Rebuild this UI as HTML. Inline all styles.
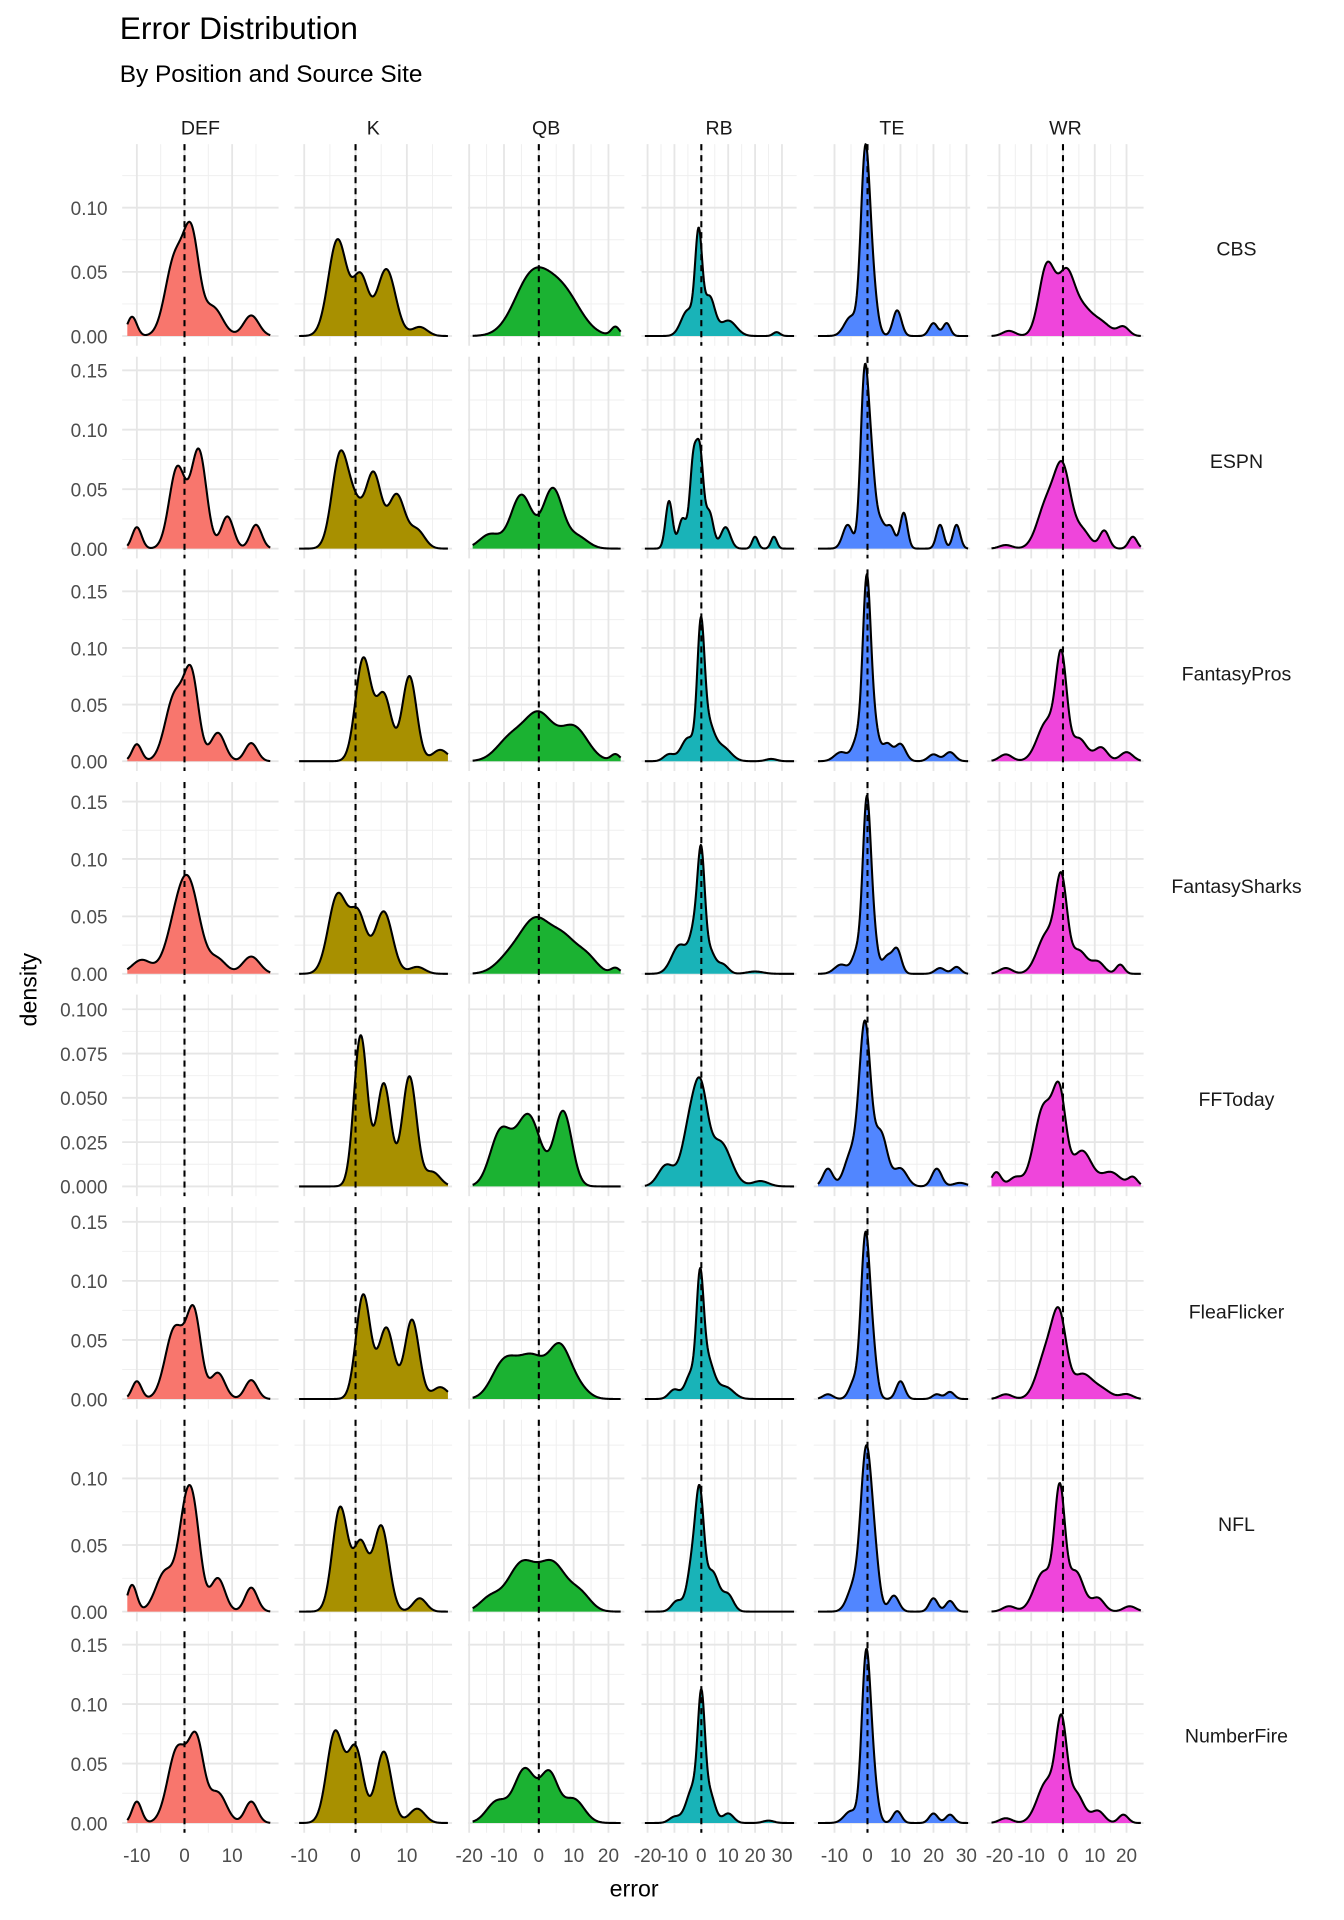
<!DOCTYPE html>
<html><head><meta charset="utf-8"><style>
html,body{margin:0;padding:0;background:#fff;}
svg{display:block;}
text{font-family:"Liberation Sans",sans-serif;}
</style></head><body>
<svg id="s" width="1344" height="1920" viewBox="0 0 1100 1571.4" preserveAspectRatio="none" xmlns="http://www.w3.org/2000/svg">
<text x="98" y="32" font-size="26" fill="#000">Error Distribution</text>
<text x="98" y="67" font-size="20" fill="#000">By Position and Source Site</text>
<text x="519" y="1552" font-size="19" text-anchor="middle" fill="#000">error</text>
<text transform="translate(30,810) rotate(-90)" font-size="19" text-anchor="middle" fill="#000">density</text>
</svg>
<script>
(function(){
var s=document.getElementById('s'),NS='http://www.w3.org/2000/svg';
function el(t,a,txt){var e=document.createElementNS(NS,t);for(var k in a)e.setAttribute(k,a[k]);if(txt!==undefined)e.textContent=txt;s.appendChild(e);return e;}
var cols=[
 {n:'DEF',x0:100,x1:228,z:151,u:3.9,r:[-12,18],maj:[-10,0,10],min:[-5,5,15],c:'#F8766D',lab:['-10','0','10']},
 {n:'K',x0:241,x1:370,z:291,u:4.2,r:[-11,18],maj:[-10,0,10],min:[-5,5,15],c:'#A89000',lab:['-10','0','10']},
 {n:'QB',x0:383,x1:511,z:441,u:2.85,r:[-19,23.5],maj:[-20,-10,0,10,20],min:[-15,-5,5,15],c:'#1BB232',lab:['-20','-10','0','10','20']},
 {n:'RB',x0:525,x1:652,z:574,u:2.2,r:[-21,34.5],maj:[-20,-10,0,10,20,30],min:[-15,-5,5,15,25],c:'#19B3B8',lab:['-20','-10','0','10','20','30']},
 {n:'TE',x0:666,x1:794,z:710,u:2.7,r:[-15,30.5],maj:[-10,0,10,20,30],min:[-5,5,15,25],c:'#5186FF',lab:['-10','0','10','20','30']},
 {n:'WR',x0:808,x1:936,z:870,u:2.6,r:[-22.5,24.5],maj:[-20,-10,0,10,20],min:[-15,-5,5,15],c:'#EF45DB',lab:['-20','-10','0','10','20']}
];
var rows=[
 {n:'CBS',b:275,sc:1050,t:['0.00','0.05','0.10'],tv:[0,.05,.1],mv:[.025,.075,.125]},
 {n:'ESPN',b:449,sc:973,t:['0.00','0.05','0.10','0.15'],tv:[0,.05,.1,.15],mv:[.025,.075,.125]},
 {n:'FantasyPros',b:623,sc:927,t:['0.00','0.05','0.10','0.15'],tv:[0,.05,.1,.15],mv:[.025,.075,.125]},
 {n:'FantasySharks',b:797,sc:940,t:['0.00','0.05','0.10','0.15'],tv:[0,.05,.1,.15],mv:[.025,.075,.125]},
 {n:'FFToday',b:971,sc:1450,t:['0.000','0.025','0.050','0.075','0.100'],tv:[0,.025,.05,.075,.1],mv:[.0125,.0375,.0625,.0875]},
 {n:'FleaFlicker',b:1145,sc:967,t:['0.00','0.05','0.10','0.15'],tv:[0,.05,.1,.15],mv:[.025,.075,.125]},
 {n:'NFL',b:1319,sc:1090,t:['0.00','0.05','0.10'],tv:[0,.05,.1],mv:[.025,.075,.125]},
 {n:'NumberFire',b:1492,sc:973,t:['0.00','0.05','0.10','0.15'],tv:[0,.05,.1,.15],mv:[.025,.075,.125]}
];
var D={
DEF:[
[[-11,1,.015],[-2,2,.06],[1.5,1.6,.072],[6,2,.022],[14,1.6,.016]],
[[-10,1,.018],[-1.5,1.7,.068],[3,1.6,.082],[9,1.3,.027],[15,1.2,.02]],
[[-10,1,.015],[-2,2,.058],[1.5,1.5,.07],[7,1.5,.025],[14,1.3,.016]],
[[-9,2,.012],[-2,2.2,.03],[1,2.3,.072],[7,1.8,.012],[14,1.8,.015]],
null,
[[-10,1,.015],[-2,2,.06],[2,1.5,.07],[7,1.5,.022],[14,1.3,.016]],
[[-11,1,.02],[-4,2,.03],[0,1.5,.055],[2,1.5,.062],[7,1.5,.025],[14,1.3,.018]],
[[-10,1,.018],[-1.5,2,.062],[2.5,1.6,.066],[7,1.8,.025],[14,1.3,.018]]],
K:[
[[-3.5,1.8,.075],[1,1.5,.045],[6,1.8,.052],[12.5,1.5,.007]],
[[-3,1.6,.078],[0,1.5,.03],[3.5,1.5,.062],[8,1.6,.045],[12,1.5,.015]],
[[1.5,1.5,.09],[5.5,1.5,.058],[10.5,1.4,.075],[16.5,1.5,.01]],
[[-3.5,1.8,.068],[0.5,1.6,.05],[5.5,1.7,.054],[12,1.5,.006]],
[[1,1.3,.085],[5.5,1.4,.058],[10.5,1.4,.062],[15,1.5,.008]],
[[1.5,1.4,.088],[6,1.5,.06],[11,1.4,.067],[16.5,1.5,.01]],
[[-3,1.5,.078],[1,1.4,.05],[5,1.5,.064],[12.5,1.3,.01]],
[[-4,1.6,.076],[0,1.5,.062],[5.5,1.5,.06],[12,1.5,.012]]],
QB:[
[[-2,5,.045],[7,5,.032],[22,1.2,.007]],
[[-14,3,.012],[-5,3,.045],[4,2.8,.05],[11,3,.01]],
[[-8,4,.02],[0,4,.04],[10,4,.03],[22,1.3,.006]],
[[-8,4,.015],[-1,4,.042],[7,4,.03],[14,3,.012],[22,1.3,.005]],
[[-11,3,.03],[-3,3.5,.04],[7,2.5,.042]],
[[-10,3.5,.03],[-2,4,.035],[6,3,.04],[11,3,.01]],
[[-14,3,.01],[-5,4,.035],[4,4,.035],[12,3,.012]],
[[-12,3,.018],[-4,3,.045],[3,2.5,.04],[10,3,.02]]],
RB:[
[[-5,2.5,.02],[-1,1.3,.075],[3,2,.03],[10,3,.012],[28,1.3,.003]],
[[-12,1.3,.04],[-7,1.5,.025],[-3,1,.07],[-0.5,1,.075],[3,1.5,.03],[9,1.8,.018],[20,.8,.01],[27,.8,.01]],
[[-12,2,.006],[-5,2.5,.02],[-0.2,1,.1],[2,2.5,.035],[8,3,.012],[26,2,.002]],
[[-8,3,.025],[-2,2,.04],[0,1,.08],[3,2,.02],[8,2,.008],[20,3,.002]],
[[-13,3,.012],[-4,3,.035],[0,2.5,.04],[7,4,.025],[22,3,.003]],
[[-10,2,.008],[-4,2,.02],[-0.5,1,.085],[2,2.5,.035],[9,3,.01]],
[[-9,2,.008],[-3,2,.04],[-0.5,1.5,.07],[4,2.5,.03],[10,2,.012]],
[[-10,2,.005],[-3,2.5,.03],[0,1,.09],[3,2,.025],[10,2,.008],[25,2,.002]]],
TE:[
[[-5,2,.015],[-0.8,1,.12],[1,1.2,.05],[9,1,.02],[20,1,.01],[24,.8,.01]],
[[-6,1.5,.02],[-1,.9,.13],[1,1,.07],[4,1,.02],[7,1,.018],[11,.7,.03],[22,.6,.02],[27,.6,.02]],
[[-8,2,.008],[-3,1.5,.02],[-0.3,.9,.14],[1.5,1.2,.04],[6,1.5,.015],[10,1.2,.015],[20,1.2,.006],[25,1.2,.008]],
[[-8,2,.008],[-3,1.5,.02],[-0.3,.9,.135],[1.5,1.3,.04],[6,1.2,.015],[9,1,.02],[22,1.5,.005],[27,1,.006]],
[[-12,1.5,.01],[-5,2,.018],[-0.8,1.7,.09],[4,2,.03],[10,2,.01],[21,1.5,.01],[28,2,.002]],
[[-12,1.5,.004],[-4,1.5,.015],[-0.7,1,.13],[1.5,1.3,.04],[10,1,.015],[21,1,.004],[25,1,.006]],
[[-4,2,.02],[-0.5,1.2,.11],[2,1.5,.04],[8,1.5,.012],[20,1,.01],[25,1,.008]],
[[-5,2,.01],[-0.5,1,.13],[1.5,1.4,.04],[9,1.3,.01],[20,1,.008],[25,1,.007]]],
WR:[
[[-17,2,.004],[-5,2.5,.055],[1,2.5,.045],[6,3,.02],[12,3,.01],[19,1.8,.007]],
[[-18,2,.003],[-5,3,.038],[0,2.5,.062],[6,2.5,.015],[13,1.5,.015],[22,1.3,.01]],
[[-18,2,.006],[-5,3,.035],[-0.5,1.7,.085],[5,2.5,.02],[12,2,.012],[20,2,.008]],
[[-18,2,.005],[-5,3,.035],[-0.5,1.8,.075],[5,2.5,.02],[11,2,.01],[18,1.3,.008]],
[[-21,1.5,.008],[-15,2,.005],[-6,3,.045],[-1,2,.045],[6,3,.02],[15,3,.008],[22,1.5,.005]],
[[-18,2,.004],[-5,3,.04],[-1,2.2,.058],[6,3,.02],[12,3,.008],[20,2,.004]],
[[-17,2,.004],[-6,3,.03],[-1,1.6,.085],[4,2.5,.03],[11,2,.01],[21,2,.004]],
[[-18,2,.004],[-5,3,.035],[-0.5,1.7,.075],[4,2.5,.025],[11,2,.01],[19,1.5,.007]]]
};
cols.forEach(function(c){el('text',{x:(c.x0+c.x1)/2,y:110,'font-size':16,'text-anchor':'middle',fill:'#1a1a1a'},c.n);});
rows.forEach(function(r,ri){
 var top=r.b-157,bot=r.b+8;
 el('text',{x:1012,y:r.b-66,'font-size':16,'text-anchor':'middle',fill:'#1a1a1a'},r.n);
 r.t.forEach(function(t,i){var y=r.b-r.tv[i]*r.sc;el('text',{x:88,y:y+6,'font-size':15.5,'text-anchor':'end',fill:'#4d4d4d'},t);});
 cols.forEach(function(c){
  var X=function(v){return c.z+v*c.u;};
  r.mv.forEach(function(v){var y=r.b-v*r.sc;if(y>top)el('line',{x1:c.x0,x2:c.x1,y1:y,y2:y,stroke:'#efefef','stroke-width':0.8});});
  c.min.forEach(function(v){el('line',{x1:X(v),x2:X(v),y1:top,y2:bot,stroke:'#efefef','stroke-width':0.8});});
  r.tv.forEach(function(v){var y=r.b-v*r.sc;el('line',{x1:c.x0,x2:c.x1,y1:y,y2:y,stroke:'#e6e6e6','stroke-width':1.5});});
  c.maj.forEach(function(v){el('line',{x1:X(v),x2:X(v),y1:top,y2:bot,stroke:'#e6e6e6','stroke-width':1.5});});
  var comp=D[c.n][ri];
  if(comp){
   var narrow=(c.n=='RB'||c.n=='TE');
   var pts=[],N=240;
   for(var i=0;i<=N;i++){var x=c.r[0]+(c.r[1]-c.r[0])*i/N,d=0;
    comp.forEach(function(g){var sd=g[1];if(narrow&&sd<1.3)sd=Math.max(sd*1.3,1.1);var q=(x-g[0])/sd;d+=g[2]*Math.exp(-0.5*q*q);});
    pts.push(X(x).toFixed(2)+','+(r.b-d*r.sc).toFixed(2));}
   el('path',{d:'M'+X(c.r[0])+','+r.b+' L'+pts.join(' L')+' L'+X(c.r[1])+','+r.b+' Z',fill:c.c,stroke:'none'});
   el('path',{d:'M'+pts.join(' L'),fill:'none',stroke:'#000','stroke-width':1.7,'stroke-linejoin':'round'});
  }
  el('line',{x1:c.z,x2:c.z,y1:top,y2:bot,stroke:'#000','stroke-width':1.7,'stroke-dasharray':'5,4'});
  if(ri==rows.length-1){c.maj.forEach(function(v,i){el('text',{x:X(v),y:1524,'font-size':15.5,'text-anchor':'middle',fill:'#4d4d4d'},c.lab[i]);});}
 });
});
})();
</script>
</body></html>
